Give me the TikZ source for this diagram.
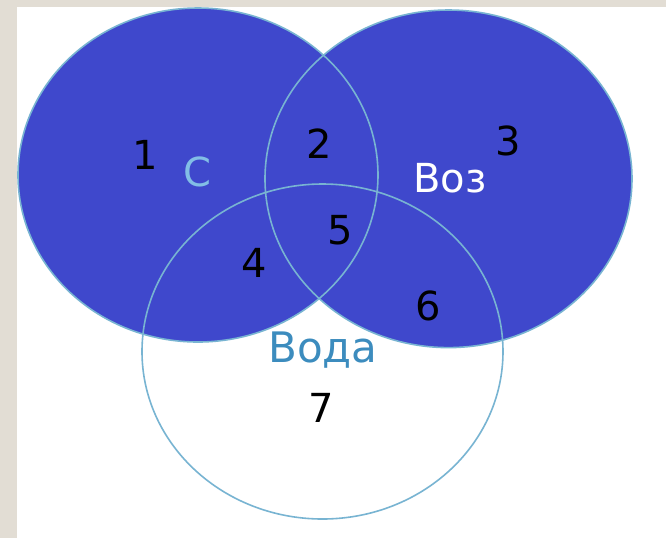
\documentclass[tikz,border=0pt]{standalone}
\usepackage{fontspec}
\setmainfont{DejaVu Sans}
\usepackage{tikz}
\definecolor{setblue}{RGB}{63,72,204}
\definecolor{rim}{RGB}{120,180,210}
\definecolor{beige}{RGB}{226,221,212}
\definecolor{wordblue}{RGB}{60,140,190}
\definecolor{lightword}{RGB}{130,190,230}

\begin{document}
\begin{tikzpicture}
      [x = 0.5pt, y = -0.5pt,
      region/.style= {
         fill = setblue
      },
      outline/.style= {
         draw = rim,
         line width = 0.8pt
      },
      num/.style= {
         font = \fontsize{20}{24}\selectfont,
         text = black,
         inner sep = 0pt
      },
      word/.style= {
         font = \fontsize{20}{24}\selectfont,
         inner sep = 0pt
      }]

      % background and frame
      \fill[beige] (0, 0) rectangle (666, 538);
      \fill[white] (17, 7) rectangle (666, 538);

      % the two filled sets
      \fill[region] (198, 175) ellipse [x radius = 180, y radius = 167];
      \fill[region] (448.5, 178.8) ellipse [x radius = 183.5, y radius = 168.8];

      % outlines of all three sets
      \draw[outline] (198, 175) ellipse [x radius = 180, y radius = 167];
      \draw[outline] (448.5, 178.8) ellipse [x radius = 183.5, y radius = 168.8];
      \draw[outline] (322.5, 351.5) ellipse [x radius = 180.5, y radius = 167.5];

      % set names
      \node[word, text = lightword] (setC) at (197, 172) {С};
      \node[word, text = white] (setAir) at (450, 178) {Воз};
      \node[word, text = wordblue, anchor = base,
            font = \fontsize{21}{24}\selectfont] (setWater) at (323, 362) {Вода};

      % region numbers
      \node[num] (r1) at (145, 155) {1};
      \node[num] (r2) at (319, 144) {2};
      \node[num] (r3) at (508, 141) {3};
      \node[num] (r4) at (254, 263) {4};
      \node[num] (r5) at (340, 230) {5};
      \node[num] (r6) at (428, 306) {6};
      \node[num] (r7) at (321, 408) {7};

\end{tikzpicture}
\end{document}
